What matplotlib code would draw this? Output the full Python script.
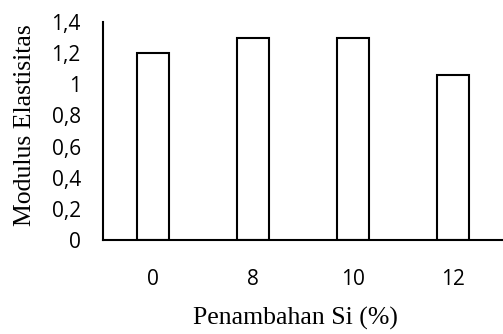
import matplotlib
matplotlib.use("Agg")
import matplotlib.pyplot as plt

categories = ["0", "8", "10", "12"]
values = [1.2, 1.3, 1.3, 1.06]
yticks = [0, 0.2, 0.4, 0.6, 0.8, 1.0, 1.2, 1.4]
ytick_labels = ["0", "0,2", "0,4", "0,6", "0,8", "1", "1,2", "1,4"]

W, H = 503, 334
fig = plt.figure(figsize=(W / 100, H / 100), dpi=100)
ax = fig.add_axes([103 / W, (H - 240) / H, (W - 103) / W, 218 / H])

x = range(len(categories))
ax.bar(x, values, width=0.315, color="white", edgecolor="black", linewidth=1.5, zorder=2)

ax.set_xlim(-0.5, 3.5)
ax.set_ylim(0, 1.4)
ax.set_yticks(yticks)
ax.set_yticklabels(ytick_labels, fontfamily="Open Sans", fontsize=15)
ax.set_xticks(list(x))
ax.set_xticklabels(categories, fontfamily="Open Sans", fontsize=15)
ax.tick_params(axis="both", length=0)
ax.tick_params(axis="y", pad=16)
ax.tick_params(axis="x", pad=21)

for s in ["top", "right"]:
    ax.spines[s].set_visible(False)
for s in ["left", "bottom"]:
    ax.spines[s].set_linewidth(1.5)

fig.text(25 / W, 1 - 125 / H, "Modulus Elastisitas", rotation=90, ha="center", va="center",
         fontfamily="Liberation Serif", fontsize=18.5)
fig.text(295 / W, 1 - 318 / H, "Penambahan Si (%)", ha="center", va="center",
         fontfamily="Liberation Serif", fontsize=18.5)

fig.savefig("out.png", dpi=100)
